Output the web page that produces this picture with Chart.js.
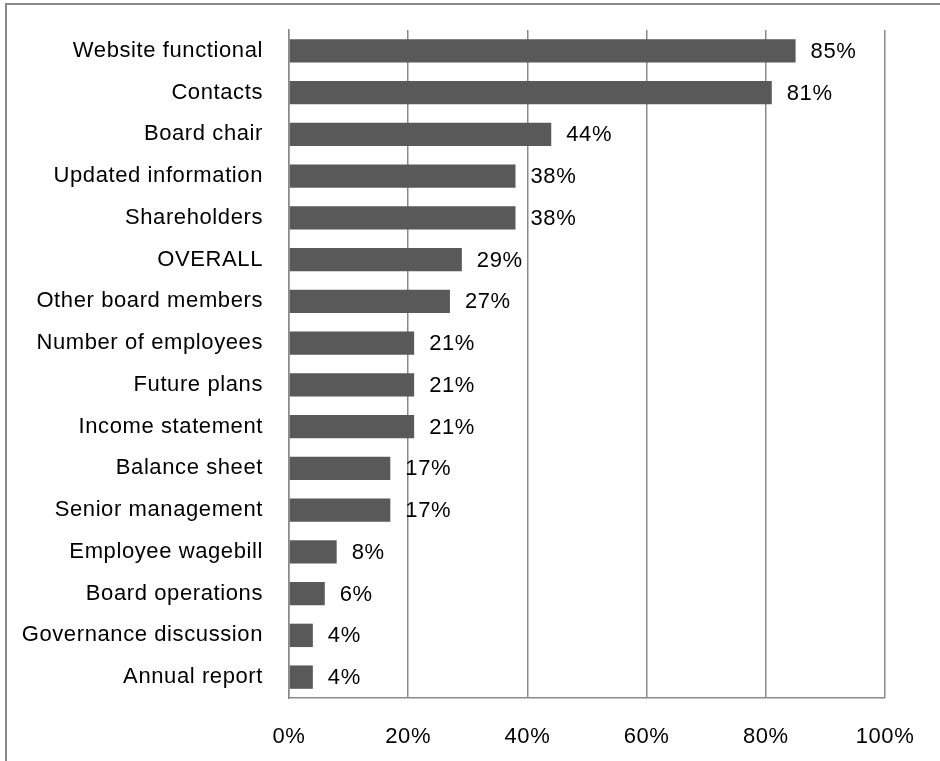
<!DOCTYPE html>
<html>
<head>
<meta charset="utf-8">
<script src="https://cdn.jsdelivr.net/npm/chart.js@4"></script>
<style>
  html, body { margin: 0; padding: 0; background: #fff; overflow: hidden; }
  #wrap { position: relative; width: 940px; height: 761px; }
  #frame {
    position: absolute; left: 5px; top: 3px; width: 1000px; height: 1000px;
    border-left: 2px solid #8a8a8a; border-top: 2px solid #8a8a8a;
  }
  canvas { position: absolute; left: 0; top: 0; }
</style>
</head>
<body>
<div id="wrap">
  <div id="frame"></div>
  <canvas id="chart" width="940" height="761"></canvas>
</div>
<script>
const categories = [
  'Website functional', 'Contacts', 'Board chair', 'Updated information',
  'Shareholders', 'OVERALL', 'Other board members', 'Number of employees',
  'Future plans', 'Income statement', 'Balance sheet', 'Senior management',
  'Employee wagebill', 'Board operations', 'Governance discussion', 'Annual report'
];
const shares = [85, 81, 44, 38, 38, 29, 27, 21, 21, 21, 17, 17, 8, 6, 4, 4];
const xTicks = [0, 20, 40, 60, 80, 100];

const FONT = { family: "'Liberation Sans', Arial, sans-serif", size: 22 };
const SPACING = '0.6px';
const GRID = '#8a8a8a';

// a little extra tracking on all text drawn to the canvas
const tracking = {
  id: 'tracking',
  beforeDraw(chart) { chart.ctx.letterSpacing = SPACING; }
};

// value labels just past the end of each bar
const barLabels = {
  id: 'barLabels',
  afterDatasetsDraw(chart) {
    const ctx = chart.ctx;
    const meta = chart.getDatasetMeta(0);
    ctx.save();
    ctx.font = FONT.size + 'px ' + FONT.family;
    ctx.letterSpacing = SPACING;
    ctx.fillStyle = '#000';
    ctx.textAlign = 'left';
    ctx.textBaseline = 'middle';
    meta.data.forEach((bar, i) => {
      ctx.fillText(shares[i] + '%', bar.x + 15, bar.y + 1);
    });
    ctx.restore();
  }
};

new Chart(document.getElementById('chart'), {
  type: 'bar',
  data: {
    labels: categories,
    datasets: [{
      data: shares,
      backgroundColor: '#595959',
      borderWidth: 0,
      categoryPercentage: 1,
      barPercentage: 0.56
    }]
  },
  options: {
    indexAxis: 'y',
    responsive: false,
    animation: false,
    layout: { padding: { top: 30, right: 55, left: 0, bottom: 0 } },
    plugins: { legend: { display: false }, tooltip: { enabled: false } },
    scales: {
      x: {
        min: 0, max: 100,
        afterBuildTicks(scale) { scale.ticks = xTicks.map(v => ({ value: v })); },
        afterFit(scale) { scale.height = 63; },
        grid: { color: GRID, lineWidth: 1.5, drawTicks: false },
        border: { color: GRID, width: 1.5 },
        ticks: {
          color: '#000', font: FONT, padding: 26,
          callback: v => v + '%'
        }
      },
      y: {
        afterFit(scale) {
          scale.width = 289;
          // category labels sit mid-row, so no extra room above/below the plot
          scale.paddingTop = 0;
          scale.paddingBottom = 0;
        },
        grid: { display: false, drawTicks: false },
        border: { color: GRID, width: 1.5 },
        ticks: { color: '#000', font: FONT, padding: 26, autoSkip: false }
      }
    }
  },
  plugins: [tracking, barLabels]
});
</script>
</body>
</html>
